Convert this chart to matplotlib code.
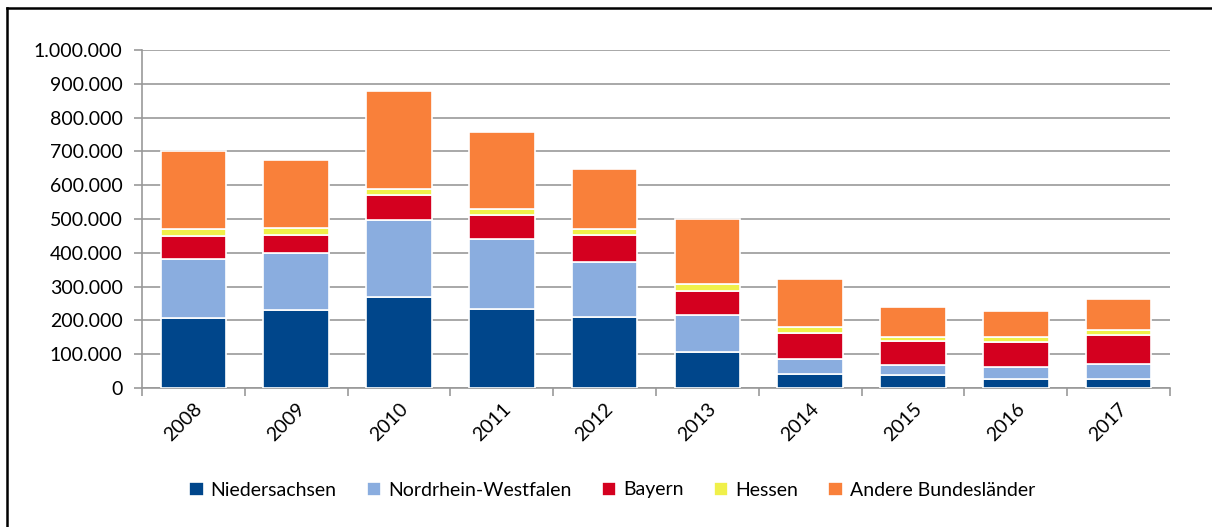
import matplotlib
matplotlib.use("Agg")
import matplotlib.pyplot as plt
from matplotlib.ticker import FuncFormatter, FixedLocator
from matplotlib.lines import Line2D
import numpy as np

years = ["2008", "2009", "2010", "2011", "2012", "2013", "2014", "2015", "2016", "2017"]
niedersachsen = [207000, 230000, 269000, 234000, 210000, 106000, 41000, 38000, 28000, 28000]
nrw = [175000, 168000, 228000, 207000, 163000, 110000, 45000, 31000, 35000, 43000]
bayern = [68000, 55000, 74000, 70000, 81000, 71000, 78000, 70000, 72000, 86000]
hessen = [20000, 19000, 19000, 19000, 17000, 20000, 17000, 13000, 15000, 16000]
andere = [230000, 204000, 289000, 228000, 177000, 194000, 142000, 88000, 79000, 90000]

series = [
    ("Niedersachsen", niedersachsen, "#00468B"),
    ("Nordrhein-Westfalen", nrw, "#8AADDF"),
    ("Bayern", bayern, "#D4001F"),
    ("Hessen", hessen, "#F0F04A"),
    ("Andere Bundesländer", andere, "#F9803A"),
]

plt.rcParams['font.family'] = ['Lato', 'DejaVu Sans']
FS = 14

fig = plt.figure(figsize=(12.12, 5.27), dpi=100)
ax = fig.add_axes([142/1212, 1 - 388/527, (1170-142)/1212, (388-50)/527])

x = np.arange(len(years))
bottom = np.zeros(len(years))
for name, vals, col in series:
    ax.bar(x, vals, 0.64, bottom=bottom, color=col, edgecolor="white", linewidth=1.2, label=name, zorder=3)
    bottom += np.array(vals)

ax.set_xlim(-0.5, len(years) - 0.5)
ax.set_ylim(0, 1000000)
ax.set_yticks(np.arange(0, 1000001, 100000))
ax.yaxis.set_major_formatter(FuncFormatter(lambda v, p: f"{int(v):,}".replace(",", ".")))
ax.grid(axis="y", color="#999999", linewidth=1.2, zorder=0)
for s in ["top", "right"]:
    ax.spines[s].set_visible(False)
for s in ["left", "bottom"]:
    ax.spines[s].set_color("#999999")
    ax.spines[s].set_linewidth(1.2)

ax.set_xticks(x)
ax.set_xticklabels(years, rotation=45, ha="right", rotation_mode="anchor", fontsize=FS)
ax.tick_params(axis="x", length=0, pad=9)
ax.xaxis.set_minor_locator(FixedLocator(np.arange(-0.5, len(years), 1.0)))
ax.tick_params(axis="x", which="minor", length=6, color="#999999", width=1.2)
ax.tick_params(axis="y", length=6, color="#999999", width=1.2, labelsize=FS, pad=8)

handles, labels = ax.get_legend_handles_labels()
fig.legend(handles, labels, loc="center", bbox_to_anchor=(612/1212, 1 - 490/527), ncol=5,
           frameon=False, fontsize=FS, handlelength=0.75, handleheight=0.75,
           handletextpad=0.35, columnspacing=1.55)

fig.add_artist(Line2D([7/1212, 1.0], [1 - 8/527, 1 - 8/527], transform=fig.transFigure,
                      color="black", linewidth=1.8))
fig.add_artist(Line2D([7/1212, 7/1212], [0.0, 1 - 8/527], transform=fig.transFigure,
                      color="black", linewidth=1.8))

fig.savefig("out.png", dpi=100)
